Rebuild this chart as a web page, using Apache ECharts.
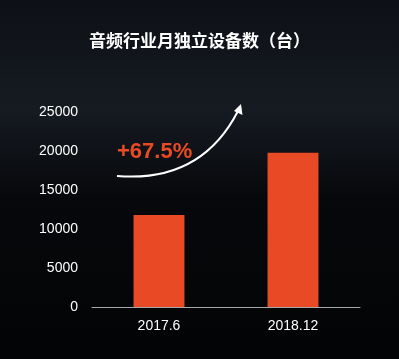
<!DOCTYPE html>
<html>
<head>
<meta charset="utf-8">
<style>
html,body{margin:0;padding:0;background:#050608;}
#c{width:399px;height:359px;}
</style>
<script src="https://cdn.jsdelivr.net/npm/echarts@6/dist/echarts.min.js"></script>
</head>
<body>
<div id="c"></div>
<script>
const categories = ['2017.6', '2018.12'];
const values = [11800, 19760];
const titleText = '音频行业月独立设备数（台）';
const growthLabel = '+67.5%';

const chart = echarts.init(document.getElementById('c'), null, {renderer: 'canvas'});
const font = '"Liberation Sans", Arial, sans-serif';
chart.setOption({
  backgroundColor: {
    type: 'linear', x: 0, y: 0, x2: 0, y2: 1,
    colorStops: [
      {offset: 0, color: '#0d1015'},
      {offset: 0.3, color: '#161b22'},
      {offset: 0.55, color: '#07080b'},
      {offset: 1, color: '#030405'}
    ]
  },
  animation: false,
  title: {
    text: titleText,
    left: 'center',
    top: 27,
    textStyle: {color: '#ffffff', fontSize: 17, fontWeight: 'bold', fontFamily: '"Noto Sans CJK SC", sans-serif'}
  },
  grid: {left: 92, right: 39, top: 112, bottom: 52, containLabel: false},
  xAxis: {
    type: 'category',
    data: categories,
    axisLine: {lineStyle: {color: '#a8a8a8', width: 1}},
    axisTick: {show: false},
    axisLabel: {color: '#ffffff', fontSize: 14, fontFamily: font, margin: 12}
  },
  yAxis: {
    type: 'value',
    min: 0, max: 25000, interval: 5000,
    axisLine: {show: false},
    axisTick: {show: false},
    splitLine: {show: false},
    axisLabel: {color: '#ffffff', fontSize: 14, fontFamily: font, margin: 14, formatter: v => String(v)}
  },
  series: [{
    type: 'bar',
    data: values,
    barWidth: '38%',
    itemStyle: {color: '#e84a26'}
  }],
  graphic: [
    {
      type: 'bezierCurve',
      shape: {x1: 117, y1: 176, cpx1: 201, cpy1: 183, x2: 238, y2: 111},
      style: {stroke: '#ffffff', lineWidth: 2, fill: null}
    },
    {
      type: 'polygon',
      shape: {points: [[241, 104], [242.5, 115], [234, 111]]},
      style: {fill: '#ffffff'}
    },
    {
      type: 'text',
      left: 117,
      top: 141,
      style: {text: growthLabel, fill: '#e84a26', fontSize: 22, fontWeight: 'bold', fontFamily: font}
    }
  ]
});
</script>
</body>
</html>
